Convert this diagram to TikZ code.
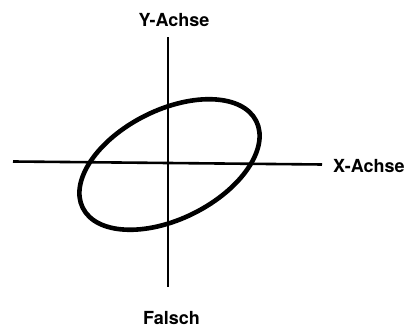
\documentclass[tikz,border=0pt]{standalone}
\usepackage{fontspec}
\setsansfont{TeX Gyre Heros}
\usetikzlibrary{calc}

\begin{document}
\begin{tikzpicture}[x=1pt,y=1pt,
		axislabel/.style={font=\fontsize{18}{20}\selectfont\sffamily\bfseries,inner sep=0pt}]
		
		% fixed frame of the scan
		\useasboundingbox (0,0) rectangle (414,328);
		
		% axes
		\coordinate (O) at (168,165);
		\coordinate (ytop) at (168,291);
		\coordinate (ybot) at (168,41);
		\coordinate (xleft) at (13,166.5);
		\coordinate (xright) at (322,163.5);
		\draw[line width=2.6] (ybot) -- (ytop);
		\draw[line width=2.6] (xleft) -- (xright);
		
		% tilted ellipse
		\draw[line width=4.6,rotate around={26.6:(169.5,163.5)}]
			(169.5,163.5) ellipse [x radius=97,y radius=54.5];
		
		% labels
		\node[axislabel,anchor=base] (ylabel) at (174,301) {Y-Achse};
		\node[axislabel,anchor=base west] (xlabel) at (333,155) {X-Achse};
		\node[axislabel,anchor=base] (caption) at (171.5,3) {Falsch};
		
	\end{tikzpicture}
\end{document}
